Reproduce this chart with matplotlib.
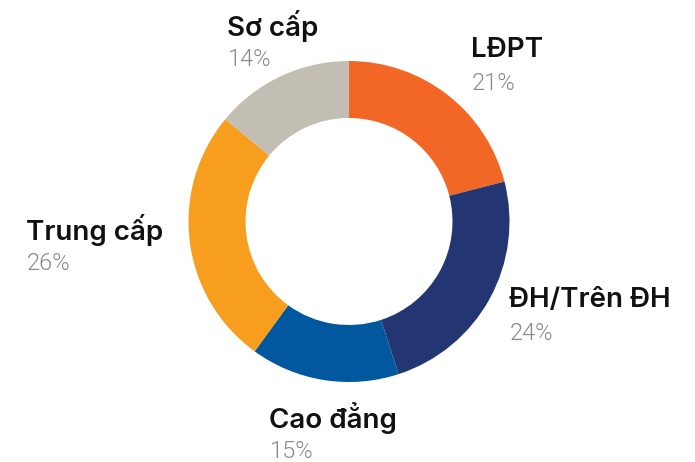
import matplotlib
matplotlib.use("Agg")
import matplotlib.pyplot as plt

labels = ["LĐPT", "ĐH/Trên ĐH", "Cao đẳng", "Trung cấp", "Sơ cấp"]
shares = [21, 24, 15, 26, 14]
colors = ["#F26725", "#233671", "#02589E", "#F79E1F", "#C2BEB3"]

# label anchor (left edge, centre of name line) in pixels from the top-left
label_pos = [(471, 50), (509, 300), (269, 418), (26, 230), (227, 26)]

W, H = 695, 462
fig = plt.figure(figsize=(W / 100, H / 100), dpi=100)
ax = fig.add_axes([0, 0, 1, 1])
ax.axis("off")

ax.pie(shares, colors=colors, startangle=90, counterclock=False,
       center=(349, H - 221.5), radius=160.5,
       wedgeprops=dict(width=57, linewidth=0))
ax.set_xlim(0, W)
ax.set_ylim(0, H)
ax.set_aspect("equal")

for name, val, (x, y) in zip(labels, shares, label_pos):
    ax.text(x, H - y, name, fontsize=20, fontweight="semibold", family="Inter",
            color="#111111", ha="left", va="center")
    ax.text(x + 1, H - y - 33, f"{val}%", fontsize=17, fontweight=300, family="Roboto",
            color="#8a8a8a", ha="left", va="center")

fig.savefig("out.png", dpi=100)
